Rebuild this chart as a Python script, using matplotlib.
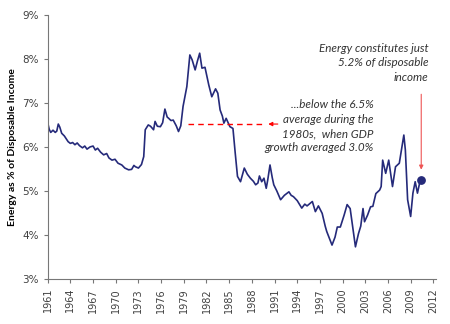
import matplotlib.pyplot as plt
import numpy as np

# energy spending as % of disposable income
years = [1961.0, 1961.2, 1961.4, 1961.7, 1962.0, 1962.2, 1962.4, 1962.6, 1962.85, 1963.2,
         1963.7, 1964.0, 1964.3, 1964.6, 1964.9, 1965.2, 1965.6, 1965.9, 1966.2, 1966.6,
         1967.0, 1967.3, 1967.6, 1968.0, 1968.4, 1968.8, 1969.1, 1969.5, 1969.9, 1970.3,
         1970.8, 1971.2, 1971.7, 1972.1, 1972.4, 1972.6, 1973.0, 1973.4, 1973.7, 1973.9,
         1974.3, 1974.6, 1975.0, 1975.2, 1975.5, 1975.9, 1976.2, 1976.5, 1976.8, 1977.0,
         1977.3, 1977.6, 1978.0, 1978.3, 1978.6, 1978.9, 1979.4, 1979.8, 1980.1, 1980.5,
         1980.8, 1981.1, 1981.4, 1981.8, 1982.3, 1982.7, 1983.0, 1983.2, 1983.5, 1983.8,
         1984.1, 1984.3, 1984.6, 1985.1, 1985.5, 1985.8, 1986.1, 1986.5, 1987.0, 1987.4,
         1987.8, 1988.2, 1988.5, 1988.8, 1989.0, 1989.3, 1989.6, 1989.9, 1990.1, 1990.4,
         1990.7, 1990.9, 1991.3, 1991.8, 1992.3, 1992.9, 1993.2, 1993.5, 1994.0, 1994.6,
         1995.0, 1995.3, 1996.0, 1996.4, 1996.8, 1997.3, 1997.7, 1997.9, 1998.2, 1998.6,
         1999.0, 1999.3, 1999.7, 2000.2, 2000.6, 2001.0, 2001.4, 2001.7, 2002.1, 2002.4,
         2002.7, 2002.9, 2003.3, 2003.7, 2004.0, 2004.4, 2004.9, 2005.1, 2005.3, 2005.7,
         2006.1, 2006.6, 2007.0, 2007.5, 2007.8, 2008.1, 2008.3, 2008.6, 2009.0, 2009.3,
         2009.6, 2009.9, 2010.2, 2010.4]
energy_pct = [6.55, 6.40, 6.33, 6.38, 6.33, 6.36, 6.52, 6.45, 6.31, 6.25,
              6.12, 6.08, 6.10, 6.05, 6.09, 6.03, 5.98, 6.02, 5.95, 6.00,
              6.02, 5.93, 5.97, 5.88, 5.82, 5.85, 5.75, 5.70, 5.72, 5.63,
              5.59, 5.52, 5.48, 5.49, 5.58, 5.55, 5.52, 5.60, 5.78, 6.39,
              6.50, 6.47, 6.39, 6.58, 6.47, 6.46, 6.55, 6.86, 6.68, 6.65,
              6.60, 6.61, 6.48, 6.35, 6.48, 6.92, 7.37, 8.09, 7.98, 7.75,
              7.95, 8.13, 7.79, 7.81, 7.41, 7.14, 7.25, 7.32, 7.22, 6.84,
              6.70, 6.54, 6.65, 6.46, 6.42, 5.86, 5.33, 5.21, 5.52, 5.38,
              5.29, 5.22, 5.14, 5.18, 5.34, 5.21, 5.29, 5.06, 5.25, 5.59,
              5.30, 5.14, 5.00, 4.80, 4.90, 4.98, 4.90, 4.87, 4.78, 4.61,
              4.70, 4.66, 4.76, 4.53, 4.66, 4.49, 4.20, 4.08, 3.95, 3.77,
              3.95, 4.18, 4.18, 4.45, 4.69, 4.60, 4.10, 3.73, 4.03, 4.20,
              4.60, 4.30, 4.45, 4.64, 4.65, 4.94, 5.02, 5.10, 5.70, 5.40,
              5.70, 5.10, 5.55, 5.63, 5.95, 6.27, 5.93, 4.80, 4.42, 4.95,
              5.21, 4.95, 5.19, 5.24]

avg_1980s = 6.52
tick_years = list(range(1961, 2013, 3))
y_ticks = [3, 4, 5, 6, 7, 8, 9]

fig = plt.figure(figsize=(4.5, 3.24), dpi=100)
ax = fig.add_axes([0.106, 0.139, 0.862, 0.815])

ax.plot(years, energy_pct, color="#252a7a", linewidth=1.2)
ax.scatter([years[-1]], [energy_pct[-1]], color="#252a7a", s=28, zorder=5)

# 1980s average, dashed, with a little arrow on the right
ax.plot([1979.6, 1989.4], [avg_1980s, avg_1980s], color="red", linestyle=(0, (4, 3)), linewidth=1)
ax.annotate("", xy=(1989.8, avg_1980s), xytext=(1991.8, avg_1980s),
            arrowprops=dict(arrowstyle="-|>", color="red", lw=0.8, mutation_scale=6))

# arrow pointing at the latest value
ax.annotate("", xy=(years[-1], 5.42), xytext=(years[-1], 7.26),
            arrowprops=dict(arrowstyle="-|>", color="#ee5555", lw=0.8, mutation_scale=6))

txt_color = "#333333"
ax.text(2011.4, 7.91, "Energy constitutes just\n5.2% of disposable\nincome", ha="right", va="center",
        fontsize=8.4, style="italic", color=txt_color, family="Lato", linespacing=1.38)
ax.text(2004.1, 6.47, "...below the 6.5%\naverage during the\n1980s,  when GDP\ngrowth averaged 3.0%",
        ha="right", va="center", fontsize=8.4, style="italic", color=txt_color, family="Lato",
        linespacing=1.38)

ax.set_xlim(1961, 2012.3)
ax.set_ylim(3, 9)
ax.set_xticks(tick_years)
ax.set_xticklabels([str(y) for y in tick_years], rotation=90, fontsize=7, color="#404040")
ax.set_yticks(y_ticks)
ax.set_yticklabels([f"{v}%" for v in y_ticks], fontsize=7.5, color="#404040")
ax.tick_params(length=3, color="#777777", width=0.8)
ax.set_ylabel("Energy as % of Disposable Income", fontsize=7.5, fontweight="bold", family="Lato")

for side in ["top", "right"]:
    ax.spines[side].set_visible(False)
for side in ["left", "bottom"]:
    ax.spines[side].set_color("#777777")
    ax.spines[side].set_linewidth(0.8)

fig.savefig("out.png")
